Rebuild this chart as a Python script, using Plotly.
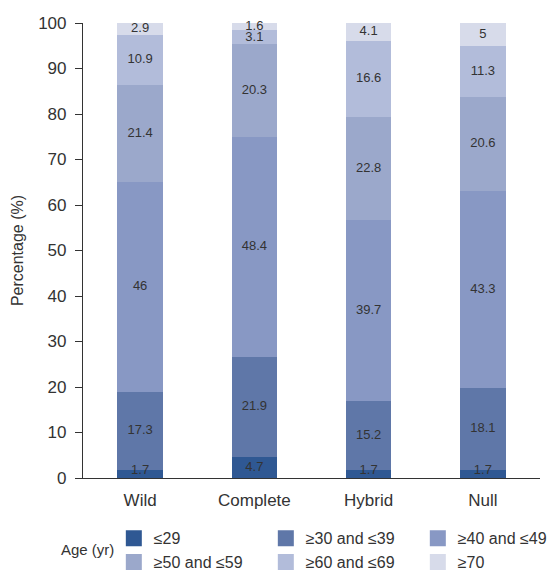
import plotly.graph_objects as go

categories = ["Wild", "Complete", "Hybrid", "Null"]
age_groups = ["≤29", "≥30 and ≤39", "≥40 and ≤49", "≥50 and ≤59", "≥60 and ≤69", "≥70"]
le29 = [1.7, 4.7, 1.7, 1.7]
a30_39 = [17.3, 21.9, 15.2, 18.1]
a40_49 = [46, 48.4, 39.7, 43.3]
a50_59 = [21.4, 20.3, 22.8, 20.6]
a60_69 = [10.9, 3.1, 16.6, 11.3]
ge70 = [2.9, 1.6, 4.1, 5]
series = [le29, a30_39, a40_49, a50_59, a60_69, ge70]
colors = ["#2f5893", "#5f77a8", "#8898c4", "#9ba8cb", "#b2bcda", "#d7dbea"]

FONT = "Liberation Sans, Arial, sans-serif"

fig = go.Figure()
for name, vals, col in zip(age_groups, series, colors):
    fig.add_trace(go.Bar(
        x=categories, y=vals, name=name, legendgroup=name, showlegend=False,
        marker=dict(color=col, line=dict(width=0)),
        width=0.40, hoverinfo="x+y+name",
    ))

# value labels at segment centres (computed from the stacked data)
base = [0.0] * len(categories)
for name, vals in zip(age_groups, series):
    mids = [max(b + v / 2.0, 1.6) for b, v in zip(base, vals)]
    fig.add_trace(go.Scatter(
        x=categories, y=mids, mode="text", text=[str(v) for v in vals],
        textposition="middle center", showlegend=False, hoverinfo="skip",
        textfont=dict(color="#333333", size=13, family=FONT), cliponaxis=False,
    ))
    base = [b + v for b, v in zip(base, vals)]

# legend swatches
for name, col in zip(age_groups, colors):
    fig.add_trace(go.Scatter(
        x=[None], y=[None], mode="markers", name=name, legendgroup=name,
        marker=dict(symbol="square", size=16, color=col, line=dict(width=0)),
        showlegend=True,
    ))

fig.update_layout(
    barmode="stack",
    width=549, height=571,
    margin=dict(l=83, r=9, t=23, b=93, autoexpand=False),
    plot_bgcolor="white", paper_bgcolor="white",
    font=dict(family=FONT, color="#333333", size=17),
    showlegend=True,
    legend=dict(
        orientation="h", x=-0.042, xanchor="left", y=-0.095, yanchor="top",
        entrywidth=107, entrywidthmode="pixels",
        font=dict(size=16, family=FONT, color="#333333"),
        title=dict(text="\u00a0" * 9, side="left", font=dict(size=16, family=FONT)),
        traceorder="normal", itemwidth=30, tracegroupgap=0,
        bgcolor="rgba(0,0,0,0)",
    ),
    xaxis=dict(
        showline=True, linecolor="#333333", linewidth=1.2,
        ticks="", tickfont=dict(size=17), range=[-0.5, 3.5],
        ticklabelstandoff=6,
    ),
    yaxis=dict(
        range=[0, 100], dtick=10, showgrid=False, zeroline=False,
        showline=True, linecolor="#333333", linewidth=1.2,
        ticks="outside", ticklen=7, tickcolor="#333333",
        tickfont=dict(size=17), ticklabelstandoff=5,
        title=dict(text="Percentage (%)", font=dict(size=16), standoff=10),
    ),
    annotations=[dict(
        text="Age (yr)", xref="paper", yref="paper", x=-0.052, y=-0.158,
        xanchor="left", yanchor="middle", showarrow=False,
        font=dict(size=15, family=FONT, color="#333333"),
    )],
)

fig.write_html(
    "out.html",
    config={"displayModeBar": False},
    post_script="document.documentElement.style.margin='0';document.body.style.margin='0';document.body.style.padding='0';",
)
